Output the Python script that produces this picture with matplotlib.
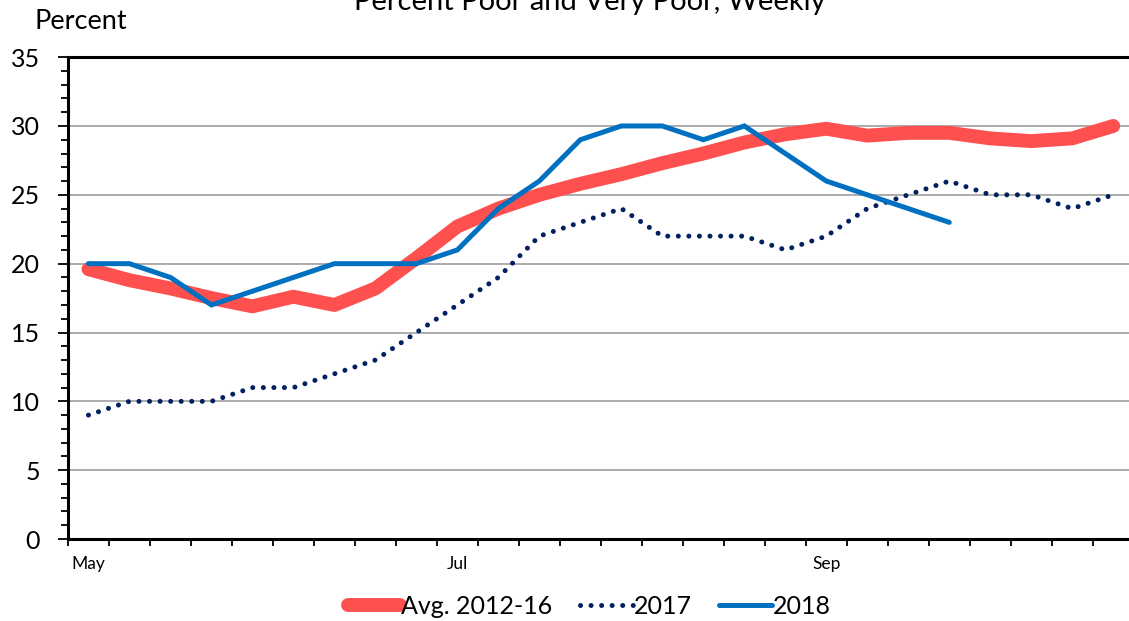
import numpy as np
import matplotlib
matplotlib.use('Agg')
import matplotlib.pyplot as plt
from matplotlib.ticker import MultipleLocator, FixedLocator, FixedFormatter

plt.rcParams['font.family'] = ['Lato', 'DejaVu Sans']

# weekly values, 26 weeks starting early May
weeks = list(range(26))
month_labels = {0: 'May', 9: 'Jul', 18: 'Sep'}
avg_2012_16 = [19.6, 18.8, 18.2, 17.5, 16.9, 17.6, 17.0, 18.2, 20.4, 22.7, 24.0, 25.0, 25.8,
               26.5, 27.3, 28.0, 28.8, 29.4, 29.8, 29.3, 29.5, 29.5, 29.1, 28.9, 29.1, 30.0]
y2017 = [9, 10, 10, 10, 11, 11, 12, 13, 15, 17, 19, 22, 23,
         24, 22, 22, 22, 21, 22, 24, 25, 26, 25, 25, 24, 25]
y2018 = [20, 20, 19, 17, 18, 19, 20, 20, 20, 21, 24, 26, 29,
         30, 30, 29, 30, 28, 26, 25, 24, 23]

fig = plt.figure(figsize=(11.29, 6.21), dpi=100)
# plot area runs a bit past the right edge of the picture
ax = fig.add_axes([0.0602, 0.132, 0.944, 0.776])

ax.plot(weeks, avg_2012_16, color='#FF5050', lw=10, solid_capstyle='round',
        solid_joinstyle='round', label='Avg. 2012-16', zorder=3)
ax.plot(weeks, y2017, color='#002060', lw=3.6, linestyle=(0, (0.01, 2.1)),
        dash_capstyle='round', label='2017', zorder=4)
ax.plot(weeks[:len(y2018)], y2018, color='#0070C0', lw=3.6, solid_capstyle='round',
        solid_joinstyle='miter', label='2018', zorder=5)

ax.set_xlim(-0.5, 25.5)
ax.set_ylim(0, 35)
ax.yaxis.set_major_locator(MultipleLocator(5))
ax.yaxis.set_minor_locator(MultipleLocator(1))
ax.tick_params(axis='y', which='major', length=7, width=1.3, labelsize=18, pad=13)
ax.tick_params(axis='y', which='minor', length=5, width=1.3)

# ticks between categories, labels on categories
ax.xaxis.set_major_locator(FixedLocator(np.arange(-0.5, 26, 1)))
ax.set_xticklabels([])
ax.xaxis.set_minor_locator(FixedLocator(list(month_labels.keys())))
ax.xaxis.set_minor_formatter(FixedFormatter(list(month_labels.values())))
ax.tick_params(axis='x', which='major', length=5, width=1.3)
ax.tick_params(axis='x', which='minor', length=0, labelsize=12.5, pad=12)

for y in range(5, 35, 5):
    ax.axhline(y, color='#A6A6A6', lw=1.3, zorder=1)

for s in ['left', 'bottom', 'top']:
    ax.spines[s].set_linewidth(2.2)
    ax.spines[s].set_color('black')
ax.spines['right'].set_visible(False)

fig.text(0.031, 0.965, 'Percent', fontsize=19.5, va='center', ha='left')
fig.text(0.522, 1 - 10 / 621, 'Percent Poor and Very Poor, Weekly', fontsize=21,
         ha='center', va='baseline')

fig.legend(loc='center', bbox_to_anchor=(0.522, 0.024), ncol=3, frameon=False,
           fontsize=18, handlelength=2.1, handletextpad=0.05, columnspacing=1.1)

fig.savefig('out.png', dpi=100)
plt.close()
